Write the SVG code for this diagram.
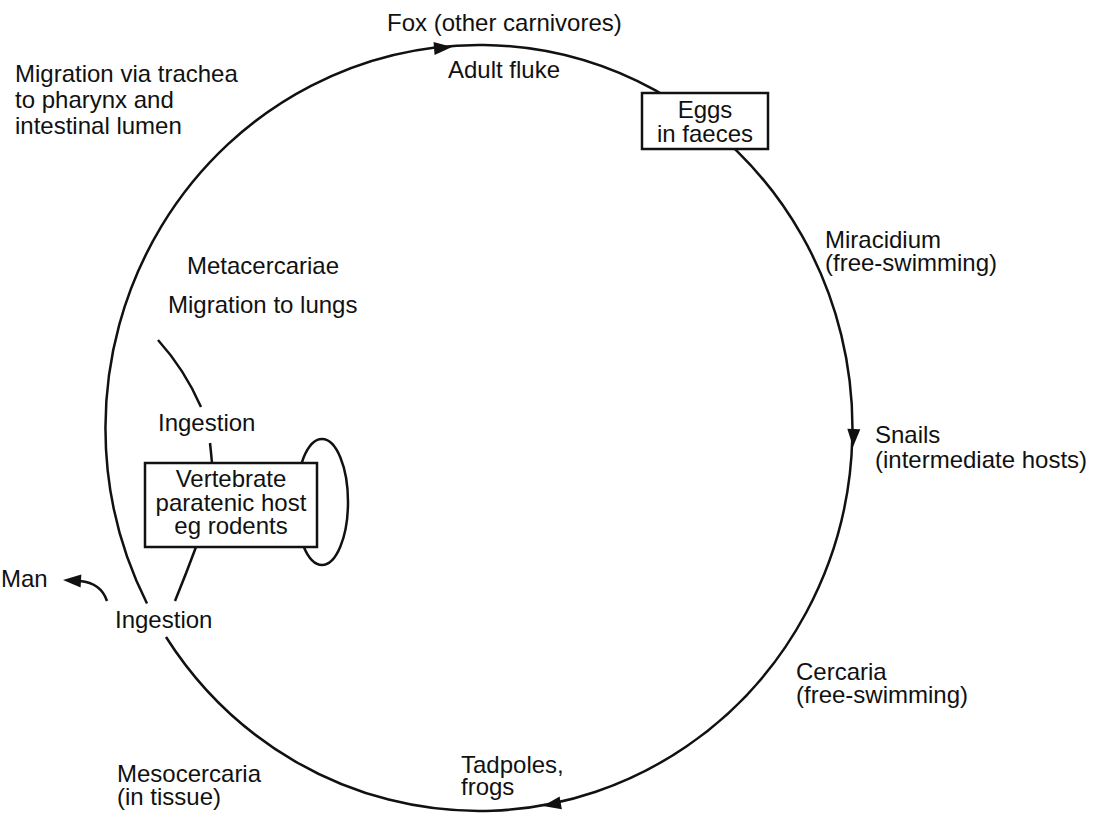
<svg xmlns="http://www.w3.org/2000/svg" width="1100" height="815" viewBox="0 0 1100 815">
<style>
text{font-family:"Liberation Sans",Arial,sans-serif;font-size:24px;fill:#111}
.ln{fill:none;stroke:#111;stroke-width:2.5}
.box{fill:#fff;stroke:#111;stroke-width:2.5}
.mid{text-anchor:middle}
</style>
<defs>
<path id="ah" d="M0,0 L-18,-6.5 L-18,6.5 Z" fill="#111"/>
</defs>
<rect width="1100" height="815" fill="#fff"/>
<g id="connectors">
<path class="ln" d="M147,603.5 A373.5,383 0 1 1 166,637"/>
<use href="#ah" transform="translate(452,47) rotate(-4.6)"/>
<use href="#ah" transform="translate(853,447) rotate(92.6)"/>
<use href="#ah" transform="translate(543,806) rotate(170)"/>
<path class="ln" d="M158,340 Q185,370 201,407"/>
<path class="ln" d="M210,443 Q211,452 212,463"/>
<path class="ln" d="M196,547 Q186,574 175,601"/>
<ellipse class="ln" cx="322" cy="502" rx="26" ry="63"/>
<path class="ln" d="M107,601 Q101,583 80,581"/>
<use href="#ah" transform="translate(63,580) rotate(183)"/>
</g>
<g id="fox"><text x="387" y="31">Fox (other carnivores)</text></g>
<g id="adult-fluke"><text x="448" y="78">Adult fluke</text></g>
<g id="eggs">
<rect class="box" x="642" y="93" width="126" height="56"/>
<text class="mid" x="705" y="118">Eggs</text>
<text class="mid" x="705" y="142">in faeces</text>
</g>
<g id="migration-trachea">
<text x="15" y="82">Migration via trachea</text>
<text x="15" y="108">to pharynx and</text>
<text x="15" y="134">intestinal lumen</text>
</g>
<g id="miracidium">
<text x="825" y="248">Miracidium</text>
<text x="825" y="271">(free-swimming)</text>
</g>
<g id="metacercariae"><text x="187" y="274">Metacercariae</text></g>
<g id="migration-lungs"><text x="168" y="313">Migration to lungs</text></g>
<g id="ingestion-upper"><text x="158" y="431">Ingestion</text></g>
<g id="snails">
<text x="875" y="443">Snails</text>
<text x="875" y="468">(intermediate hosts)</text>
</g>
<g id="paratenic">
<rect class="box" x="145" y="463" width="172" height="84"/>
<text class="mid" x="231" y="487">Vertebrate</text>
<text class="mid" x="231" y="511">paratenic host</text>
<text class="mid" x="231" y="534">eg rodents</text>
</g>
<g id="man"><text x="1" y="587">Man</text></g>
<g id="ingestion-lower"><text x="115" y="628">Ingestion</text></g>
<g id="cercaria">
<text x="796" y="680">Cercaria</text>
<text x="796" y="703">(free-swimming)</text>
</g>
<g id="tadpoles">
<text x="461" y="773">Tadpoles,</text>
<text x="461" y="795">frogs</text>
</g>
<g id="mesocercaria">
<text x="117" y="782">Mesocercaria</text>
<text x="117" y="805">(in tissue)</text>
</g>
</svg>
